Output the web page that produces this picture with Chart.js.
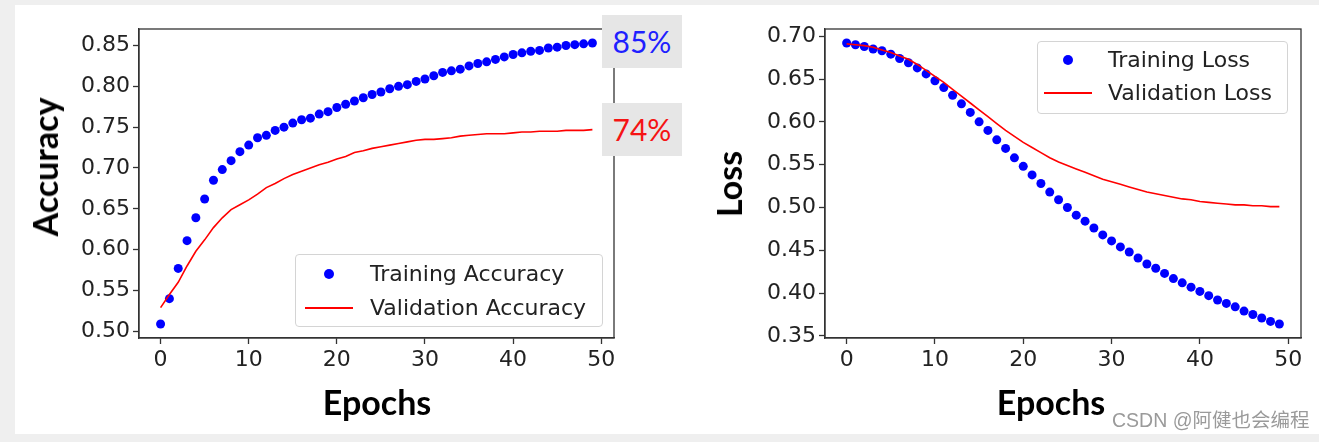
<!DOCTYPE html>
<html>
<head>
<meta charset="utf-8">
<script src="https://cdn.jsdelivr.net/npm/chart.js@4.4.1/dist/chart.umd.min.js"></script>
<style>
    body {
        margin: 0;
        width: 1319px;
        height: 442px;
        background: #efefef;
        overflow: hidden;
        position: relative;
    }
    #panel {
        position: absolute;
        left: 15px;
        top: 5px;
        width: 1304px;
        height: 429px;
        background: #ffffff;
    }
    canvas {
        position: absolute;
        top: 0;
    }
    .tituloEje {
        position: absolute;
        font-family: "Lato", sans-serif;
        font-weight: bold;
        font-size: 34px;
        line-height: 1;
        color: #000;
        white-space: nowrap;
        transform: translate(-50%, -50%);
    }
    .vertical {
        transform: translate(-50%, -50%) rotate(-90deg);
    }
    .porcentaje {
        position: absolute;
        left: 602px;
        width: 80px;
        height: 53px;
        background: #e6e6e6;
        font-family: "Lato", sans-serif;
        font-size: 30px;
        line-height: 53px;
        text-align: center;
    }
    .leyenda {
        position: absolute;
        background: rgba(255, 255, 255, 0.85);
        border: 1px solid #d4d4d4;
        border-radius: 4px;
        box-sizing: border-box;
        font-family: "DejaVu Sans", sans-serif;
        font-size: 22px;
        color: #222;
    }
    .leyenda div {
        position: absolute;
    }
    #marca {
        position: absolute;
        left: 1112px;
        top: 408px;
        font-family: "Liberation Sans", "Noto Sans CJK SC", sans-serif;
        font-size: 19.5px;
        line-height: 24px;
        color: #9a9a9a;
        white-space: nowrap;
    }
</style>
</head>
<body>
<div id="panel"></div>

<canvas id="graficoPrecision" width="680" height="434" style="left:0px"></canvas>
<canvas id="graficoPerdida" width="639" height="434" style="left:680px"></canvas>

<div class="tituloEje vertical" style="left:45px; top:167px">Accuracy</div>
<div class="tituloEje" style="left:377px; top:402px">Epochs</div>
<div class="tituloEje vertical" style="left:729px; top:184px">Loss</div>
<div class="tituloEje" style="left:1051px; top:402px">Epochs</div>

<div class="porcentaje" id="porcentajeEntreno" style="top:15px; color:#1f1fff"></div>
<div class="porcentaje" id="porcentajeValidacion" style="top:103px; color:#f51414"></div>

<div class="leyenda" id="leyendaPrecision" style="left:295px; top:254px; width:308px; height:73px"></div>
<div class="leyenda" id="leyendaPerdida" style="left:1037px; top:41px; width:251px; height:73px"></div>

<div id="marca">CSDN @阿健也会编程</div>

<script>

const epocas = Array.from({ length: 50 }, (_, i) => i);

const precisionEntreno = [
    0.509, 0.540, 0.577, 0.611, 0.639, 0.662, 0.685, 0.698, 0.709, 0.720,
    0.728, 0.737, 0.740, 0.746, 0.750, 0.755, 0.759, 0.761, 0.766, 0.769,
    0.774, 0.778, 0.782, 0.786, 0.790, 0.793, 0.797, 0.800, 0.802, 0.806,
    0.809, 0.813, 0.817, 0.819, 0.821, 0.825, 0.828, 0.830, 0.833, 0.836,
    0.839, 0.841, 0.843, 0.844, 0.847, 0.848, 0.850, 0.851, 0.852, 0.853
];

const precisionValidacion = [
    0.529, 0.545, 0.560, 0.580, 0.598, 0.612, 0.627, 0.639, 0.649, 0.655,
    0.661, 0.668, 0.676, 0.681, 0.687, 0.692, 0.696, 0.700, 0.704, 0.707,
    0.711, 0.714, 0.719, 0.721, 0.724, 0.726, 0.728, 0.730, 0.732, 0.734,
    0.735, 0.735, 0.736, 0.737, 0.739, 0.740, 0.741, 0.742, 0.742, 0.742,
    0.743, 0.744, 0.744, 0.745, 0.745, 0.745, 0.746, 0.746, 0.746, 0.747
];

const perdidaEntreno = [
    0.692, 0.690, 0.688, 0.685, 0.683, 0.679, 0.674, 0.669, 0.663, 0.656,
    0.648, 0.640, 0.631, 0.621, 0.611, 0.600, 0.590, 0.579, 0.569, 0.558,
    0.548, 0.538, 0.528, 0.518, 0.509, 0.500, 0.491, 0.484, 0.476, 0.468,
    0.461, 0.454, 0.448, 0.441, 0.434, 0.429, 0.423, 0.417, 0.412, 0.407,
    0.402, 0.397, 0.392, 0.388, 0.384, 0.379, 0.375, 0.371, 0.367, 0.364
];

const perdidaValidacion = [
    0.691, 0.690, 0.689, 0.687, 0.684, 0.681, 0.677, 0.673, 0.667, 0.660,
    0.653, 0.646, 0.638, 0.630, 0.622, 0.614, 0.606, 0.598, 0.590, 0.583,
    0.576, 0.570, 0.564, 0.558, 0.553, 0.549, 0.545, 0.541, 0.537, 0.533,
    0.530, 0.527, 0.524, 0.521, 0.518, 0.516, 0.514, 0.512, 0.510, 0.509,
    0.507, 0.506, 0.505, 0.504, 0.503, 0.503, 0.502, 0.502, 0.501, 0.501
];

const ticksEpocas = [0, 10, 20, 30, 40, 50];
const ticksPrecision = [0.50, 0.55, 0.60, 0.65, 0.70, 0.75, 0.80, 0.85];
const ticksPerdida = [0.35, 0.40, 0.45, 0.50, 0.55, 0.60, 0.65, 0.70];

const nombresPrecision = ["Training Accuracy", "Validation Accuracy"];
const nombresPerdida = ["Training Loss", "Validation Loss"];

const etiquetasFinales = ["85%", "74%"];


// marco superior y derecho (como matplotlib)
const marco = {
    id: "marco",
    afterDatasetsDraw(chart) {
        const area = chart.chartArea;
        const ctx = chart.ctx;
        ctx.save();
        ctx.strokeStyle = "#333";
        ctx.lineWidth = 1.3;
        ctx.strokeRect(area.left, area.top, area.right - area.left, area.bottom - area.top);
        ctx.restore();
    }
};

function rango(series) {

    const todos = [].concat(...series);
    const min = Math.min(...todos);
    const max = Math.max(...todos);
    const margen = (max - min) * 0.05;

    return { min: min - margen, max: max + margen };

}

function puntos(valores) {

    return epocas.map((e, i) => ({ x: e, y: valores[i] }));

}

function crearGrafico(id, entreno, validacion, nombres, ticksY, anchoY, derecha) {

    const rangoY = rango([entreno, validacion]);
    const rangoX = rango([epocas]);

    return new Chart(

        document.getElementById(id),

        {
            type: "scatter",

            data: {

                datasets: [

                    {
                        label: nombres[0],
                        data: puntos(entreno),
                        backgroundColor: "#0000ff",
                        borderWidth: 0,
                        pointRadius: 4.5,
                        pointHoverRadius: 4.5,
                        order: 1
                    },

                    {
                        label: nombres[1],
                        data: puntos(validacion),
                        showLine: true,
                        borderColor: "#ff0000",
                        borderWidth: 1.6,
                        pointRadius: 0,
                        tension: 0,
                        order: 0
                    }

                ]

            },

            options: {

                responsive: false,
                animation: false,
                events: [],

                layout: {
                    padding: { top: 29, left: 0, right: derecha, bottom: 0 }
                },

                plugins: {
                    legend: { display: false },
                    tooltip: { enabled: false }
                },

                scales: {

                    x: {
                        type: "linear",
                        min: rangoX.min,
                        max: rangoX.max,
                        afterBuildTicks: (eje) => {
                            eje.ticks = ticksEpocas.map(v => ({ value: v }));
                        },
                        afterFit: (eje) => {
                            eje.height = 96;
                            eje.paddingLeft = 0;
                            eje.paddingRight = 0;
                        },
                        ticks: {
                            font: { family: "DejaVu Sans", size: 22 },
                            color: "#222",
                            padding: 3,
                            maxRotation: 0,
                            callback: v => String(v)
                        },
                        grid: {
                            drawOnChartArea: false,
                            tickLength: 6,
                            tickWidth: 1.3,
                            color: "#333"
                        },
                        border: { color: "#333", width: 1.3 }
                    },

                    y: {
                        type: "linear",
                        min: rangoY.min,
                        max: rangoY.max,
                        afterBuildTicks: (eje) => {
                            eje.ticks = ticksY.map(v => ({ value: v }));
                        },
                        afterFit: (eje) => {
                            eje.width = anchoY;
                            eje.paddingTop = 0;
                            eje.paddingBottom = 0;
                        },
                        ticks: {
                            font: { family: "DejaVu Sans", size: 22 },
                            color: "#222",
                            padding: 3,
                            callback: v => Number(v).toFixed(2)
                        },
                        grid: {
                            drawOnChartArea: false,
                            tickLength: 6,
                            tickWidth: 1.3,
                            color: "#333"
                        },
                        border: { color: "#333", width: 1.3 }
                    }

                }

            },

            plugins: [marco]

        }

    );

}

crearGrafico("graficoPrecision", precisionEntreno, precisionValidacion, nombresPrecision, ticksPrecision, 139, 66);
crearGrafico("graficoPerdida", perdidaEntreno, perdidaValidacion, nombresPerdida, ticksPerdida, 145, 18);


// leyendas tipo matplotlib
function crearLeyenda(id, nombres, filas, xMarca, xTexto) {

    const caja = document.getElementById(id);

    // punto azul
    const punto = document.createElement("div");
    punto.style.cssText =
        "left:" + (xMarca - 5) + "px; top:" + (filas[0] - 5) + "px; width:10px; height:10px; border-radius:50%; background:#0000ff;";
    caja.appendChild(punto);

    // linea roja
    const linea = document.createElement("div");
    linea.style.cssText =
        "left:" + (xMarca - 24) + "px; top:" + (filas[1] - 1) + "px; width:48px; height:1.6px; background:#ff0000;";
    caja.appendChild(linea);

    nombres.forEach((nombre, i) => {

        const texto = document.createElement("div");
        texto.textContent = nombre;
        texto.style.cssText =
            "left:" + xTexto + "px; top:" + (filas[i] - 13) + "px; line-height:26px; white-space:nowrap;";
        caja.appendChild(texto);

    });

}

crearLeyenda("leyendaPrecision", nombresPrecision, [19, 53], 33, 74);
crearLeyenda("leyendaPerdida", nombresPerdida, [18, 51], 30, 70);

document.getElementById("porcentajeEntreno").textContent = etiquetasFinales[0];
document.getElementById("porcentajeValidacion").textContent = etiquetasFinales[1];

</script>
</body>
</html>
